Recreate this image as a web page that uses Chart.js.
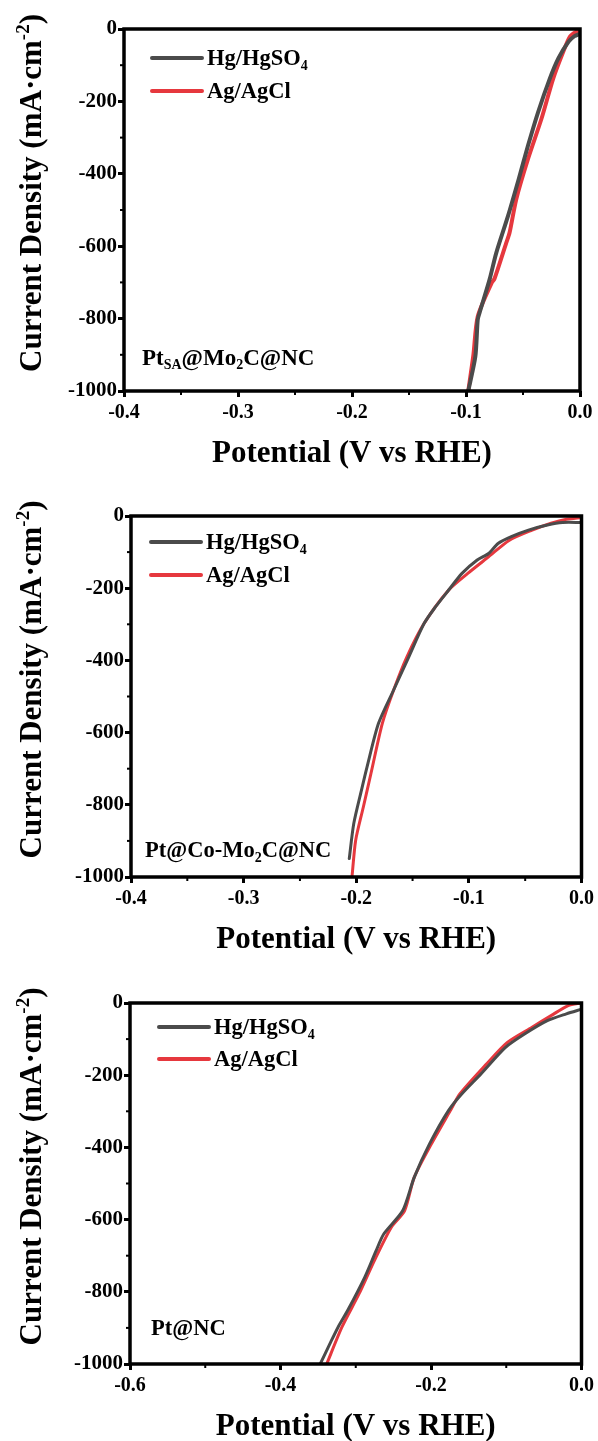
<!DOCTYPE html>
<html>
<head>
<meta charset="utf-8">
<script src="https://cdn.jsdelivr.net/npm/chart.js@4"></script>
<style>
  html, body { margin: 0; padding: 0; background: #fff; }
  body { width: 598px; height: 1441px; position: relative; overflow: hidden; }
  canvas { position: absolute; left: 0; }
</style>
</head>
<body>
<canvas id="c1" width="598" height="470" style="top:0px"></canvas>
<canvas id="c2" width="598" height="480" style="top:480px"></canvas>
<canvas id="c3" width="598" height="481" style="top:960px"></canvas>
<script>
// LSV curves, [potential V vs RHE, current density mA/cm2]
const seriesNames = ['Hg/HgSO_4', 'Ag/AgCl'];
const sampleNames = ['Pt_{SA}@Mo_2C@NC', 'Pt@Co-Mo_2C@NC', 'Pt@NC'];
const xTitle = 'Potential (V vs RHE)';
const yTitle = 'Current Density (mA·cm^{-2})';
const yTicks = [-1000, 0, 200];          // min, max, step
const xTicks = [[-0.4, 0, 0.1], [-0.4, 0, 0.1], [-0.6, 0, 0.2]];

const ptsaHg = [[-0.098,-1000],[-0.0918,-905],[-0.0897,-803],[-0.0882,-785],[-0.0794,-693],[-0.0735,-619],
  [-0.0632,-517],[-0.0538,-415],[-0.0456,-322],[-0.0368,-230],[-0.0265,-137],[-0.019,-81],[-0.010,-35],
  [-0.005,-20],[-0.0015,-15],[0,-14]];
const ptsaAg = [[-0.098,-1000],[-0.0935,-900],[-0.0897,-794],[-0.0776,-702],[-0.0750,-690],[-0.0647,-591],
  [-0.0618,-563],[-0.0559,-470],[-0.0456,-359],[-0.0338,-248],[-0.0235,-137],[-0.0147,-63],[-0.0088,-21],
  [-0.003,-7],[0,-3]];

const coHg = [[-0.2062,-949],[-0.2022,-852],[-0.1954,-760],[-0.1904,-695],[-0.1803,-575],[-0.1668,-482],
  [-0.1533,-390],[-0.1398,-298],[-0.1297,-252],[-0.1179,-205],[-0.1061,-159],[-0.0926,-122],[-0.0825,-104],
  [-0.0741,-76],[-0.0623,-57],[-0.0471,-39],[-0.0303,-25],[-0.0168,-18],[0,-18]];
const coAg = [[-0.2038,-1000],[-0.2005,-898],[-0.1937,-806],[-0.187,-714],[-0.1769,-575],[-0.1668,-482],
  [-0.155,-390],[-0.1398,-298],[-0.1179,-205],[-0.101,-159],[-0.0825,-113],[-0.064,-67],[-0.0438,-39],
  [-0.027,-20],[-0.0134,-9],[0,-4]];

const ncHg = [[-0.3472,-1000],[-0.3346,-945],[-0.3235,-898],[-0.3108,-852],[-0.2881,-760],[-0.2729,-686],
  [-0.2628,-640],[-0.2375,-575],[-0.2223,-483],[-0.2021,-391],[-0.1768,-298],[-0.1592,-252],[-0.1339,-197],
  [-0.101,-123],[-0.0757,-86],[-0.0454,-49],[-0.0201,-30],[0,-17]];
const ncAg = [[-0.3386,-1000],[-0.3184,-898],[-0.2957,-806],[-0.2754,-714],[-0.2527,-621],[-0.235,-575],
  [-0.2223,-483],[-0.1996,-391],[-0.1743,-298],[-0.1617,-252],[-0.1263,-169],[-0.0985,-109],[-0.0657,-67],
  [-0.0404,-35],[-0.0177,-7],[0,0]];

const colors = ['#4b4b4b', '#e6383e'];
const FONT = '"Liberation Serif", "Times New Roman", serif';

// split "a_2b^{-2}" into plain / sub / sup pieces
function pieces(str) {
  const out = [];
  let i = 0, buf = '';
  while (i < str.length) {
    const ch = str[i];
    if (ch === '_' || ch === '^') {
      if (buf) { out.push({ t: buf, k: 0 }); buf = ''; }
      let s;
      if (str[i + 1] === '{') {
        const end = str.indexOf('}', i);
        s = str.slice(i + 2, end);
        i = end + 1;
      } else {
        s = str[i + 1];
        i += 2;
      }
      out.push({ t: s, k: ch === '_' ? 1 : 2 });
    } else {
      buf += ch;
      i++;
    }
  }
  if (buf) out.push({ t: buf, k: 0 });
  return out;
}

// draw rich text; align 'left' or 'center', y is the middle of the caps
function richText(ctx, str, x, y, size, align) {
  const ps = pieces(str);
  const small = Math.round(size * 0.62);
  let w = 0;
  ps.forEach(p => {
    ctx.font = 'bold ' + (p.k ? small : size) + 'px ' + FONT;
    p.w = ctx.measureText(p.t).width;
    w += p.w;
  });
  let cx = align === 'center' ? x - w / 2 : x;
  const base = y + size * 0.33;
  ctx.textBaseline = 'alphabetic';
  ctx.textAlign = 'left';
  ps.forEach(p => {
    ctx.font = 'bold ' + (p.k ? small : size) + 'px ' + FONT;
    const dy = p.k === 1 ? size * 0.2 : p.k === 2 ? -size * 0.4 : 0;
    ctx.fillText(p.t, cx, base + dy);
    cx += p.w;
  });
}

const decor = {
  id: 'decor',
  afterDraw(chart, args, o) {
    const { ctx, chartArea: a, scales } = chart;
    ctx.save();
    ctx.strokeStyle = '#000';
    ctx.fillStyle = '#000';
    // frame
    ctx.lineWidth = 3.5;
    ctx.strokeRect(a.left, a.top, a.right - a.left, a.bottom - a.top);
    // minor ticks
    ctx.lineWidth = 2;
    const xs = scales.x.ticks.map(t => t.value);
    for (let i = 0; i < xs.length - 1; i++) {
      const px = scales.x.getPixelForValue((xs[i] + xs[i + 1]) / 2);
      ctx.beginPath(); ctx.moveTo(px, a.bottom); ctx.lineTo(px, a.bottom + 4); ctx.stroke();
    }
    const ys = scales.y.ticks.map(t => t.value);
    for (let i = 0; i < ys.length - 1; i++) {
      const py = scales.y.getPixelForValue((ys[i] + ys[i + 1]) / 2);
      ctx.beginPath(); ctx.moveTo(a.left, py); ctx.lineTo(a.left - 4, py); ctx.stroke();
    }
    // legend
    chart.data.datasets.forEach((ds, i) => {
      const ly = o.legendY + i * o.legendGap;
      ctx.strokeStyle = ds.borderColor;
      ctx.lineWidth = 4;
      ctx.lineCap = 'round';
      ctx.beginPath(); ctx.moveTo(o.legendX, ly); ctx.lineTo(o.legendX + 50, ly); ctx.stroke();
      richText(ctx, ds.label, o.legendX + 55, ly, 22.5, 'left');
    });
    // sample name
    richText(ctx, o.sample, o.sampleX, o.sampleY, o.sampleSize, 'left');
    // axis titles
    richText(ctx, xTitle, (a.left + a.right) / 2, a.bottom + 61, 31, 'center');
    ctx.save();
    ctx.translate(31, (a.top + a.bottom) / 2 - 17);
    ctx.rotate(-Math.PI / 2);
    richText(ctx, yTitle, 0, 0, 31, 'center');
    ctx.restore();
    ctx.restore();
  }
};

function makeChart(id, top, height, area, xr, hg, ag, lineW, deco) {
  const xFont = { family: FONT, size: 20, weight: 'bold' };
  const yFont = { family: FONT, size: 21, weight: 'bold' };
  return new Chart(document.getElementById(id), {
    type: 'line',
    data: {
      datasets: [hg, ag].map((d, i) => ({
        label: seriesNames[i],
        data: d.map(p => ({ x: p[0], y: p[1] })),
        borderColor: colors[i],
        backgroundColor: colors[i],
        borderWidth: lineW,
        pointRadius: 0,
        tension: 0.25,
        borderCapStyle: 'round',
        borderJoinStyle: 'round'
      }))
    },
    options: {
      responsive: false,
      animation: false,
      layout: { padding: { left: 0, right: 598 - area.right, top: area.top - top, bottom: 0 } },
      plugins: { legend: { display: false }, tooltip: { enabled: false }, decor: deco },
      scales: {
        x: {
          type: 'linear',
          min: xr[0], max: xr[1],
          ticks: {
            stepSize: xr[2], color: '#000', font: xFont, padding: 4, maxRotation: 0,
            callback: v => v.toFixed(1)
          },
          grid: { drawOnChartArea: false, tickLength: 6, tickWidth: 3, tickColor: '#000' },
          border: { display: false },
          afterFit: s => { s.height = height - (area.bottom - top); }
        },
        y: {
          type: 'linear',
          min: yTicks[0], max: yTicks[1],
          ticks: { stepSize: yTicks[2], color: '#000', font: yFont, padding: 1, callback: v => String(v) },
          grid: { drawOnChartArea: false, tickLength: 6, tickWidth: 3, tickColor: '#000' },
          border: { display: false },
          afterFit: s => { s.width = area.left; }
        }
      }
    },
    plugins: [decor]
  });
}

makeChart('c1', 0, 470, { left: 124, right: 580, top: 29, bottom: 391 }, xTicks[0], ptsaHg, ptsaAg, 4,
  { legendX: 152, legendY: 58, legendGap: 33, sample: sampleNames[0], sampleX: 142, sampleY: 357, sampleSize: 23 });
makeChart('c2', 480, 480, { left: 131, right: 586, top: 516, bottom: 877 }, xTicks[1], coHg, coAg, 3,
  { legendX: 151, legendY: 542 - 480, legendGap: 33, sample: sampleNames[1], sampleX: 145, sampleY: 850 - 480, sampleSize: 22.5 });
makeChart('c3', 960, 481, { left: 130, right: 586, top: 1003, bottom: 1364 }, xTicks[2], ncHg, ncAg, 3,
  { legendX: 159, legendY: 1027 - 960, legendGap: 32, sample: sampleNames[2], sampleX: 151, sampleY: 1328 - 960, sampleSize: 22.5 });
</script>
</body>
</html>
